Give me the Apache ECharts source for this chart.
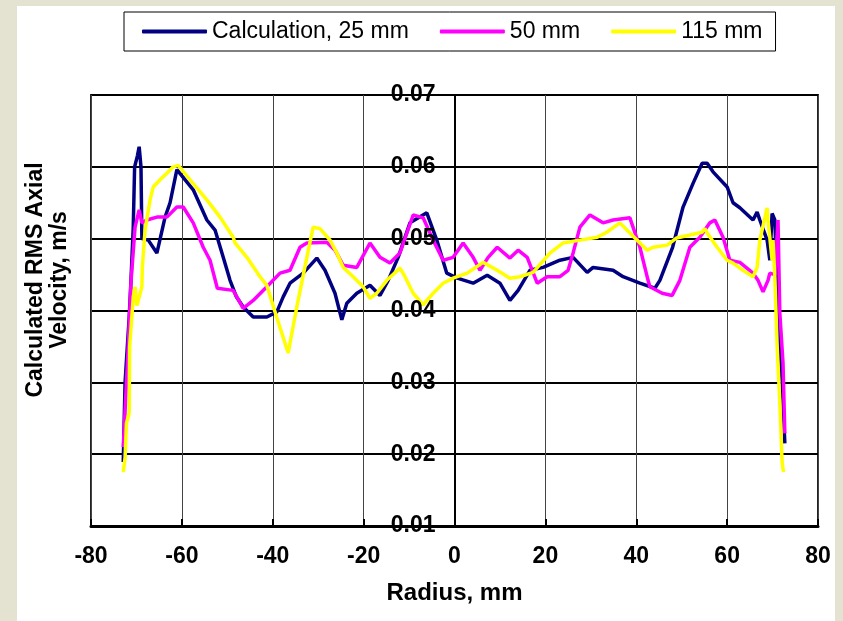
<!DOCTYPE html>
<html>
<head>
<meta charset="utf-8">
<script src="https://cdn.jsdelivr.net/npm/echarts@6/dist/echarts.min.js"></script>
<style>
html,body{margin:0;padding:0;background:#e4e2d0;}
#chart{width:843px;height:621px;}
</style>
</head>
<body>
<div id="chart"></div>
<script>
const seriesNames = ['Calculation, 25 mm', '50 mm', '115 mm'];
const xTicks = [-80, -60, -40, -20, 0, 20, 40, 60, 80];
const yTicks = [0.01, 0.02, 0.03, 0.04, 0.05, 0.06, 0.07];

const calc25 = [[-72.9,0.0189],[-72.5,0.030],[-71.6,0.039],[-71.2,0.0442],[-70.7,0.0516],[-70.4,0.060],[-69.8,0.0615],[-69.4,0.0628],[-69.0,0.060],[-68.8,0.050],[-67.4,0.0498],[-65.5,0.048],[-63.7,0.053],[-62.6,0.055],[-61.1,0.0596],[-57.5,0.0568],[-54.5,0.0526],[-52.7,0.0512],[-50.9,0.0474],[-49.4,0.0442],[-48.0,0.0419],[-46.5,0.0405],[-44.3,0.0391],[-41.3,0.0391],[-39.1,0.0398],[-37.7,0.0419],[-36.2,0.0438],[-33.3,0.0452],[-30.3,0.0473],[-28.5,0.0456],[-26.3,0.0424],[-24.8,0.0387],[-23.7,0.041],[-21.5,0.0424],[-18.6,0.0435],[-16.4,0.0421],[-14.6,0.0442],[-12.4,0.0474],[-9.8,0.0522],[-6.1,0.0536],[-3.9,0.0498],[-1.7,0.0452],[0.6,0.0445],[4.1,0.0438],[7.2,0.0449],[10.0,0.0438],[12.2,0.0414],[14.0,0.0428],[16.6,0.0456],[19.5,0.046],[23.2,0.047],[26.1,0.0474],[29.2,0.0453],[30.5,0.046],[34.9,0.0456],[37.1,0.0447],[40.8,0.0438],[44.1,0.0431],[45.2,0.0442],[48.0,0.0488],[50.3,0.0544],[52.5,0.0577],[54.5,0.0605],[55.6,0.0605],[56.9,0.0593],[60.0,0.0572],[61.3,0.055],[62.8,0.0543],[65.7,0.0526],[66.6,0.0537],[67.2,0.0526],[68.8,0.0498],[69.4,0.047],[69.9,0.0535],[70.5,0.0526],[71.2,0.040],[72.1,0.030],[72.7,0.0215]];

const mm50 = [[-72.9,0.021],[-71.8,0.035],[-71.2,0.044],[-70.3,0.0516],[-69.4,0.054],[-68.8,0.0522],[-67.7,0.0526],[-65.5,0.053],[-63.3,0.053],[-61.1,0.0544],[-59.7,0.0544],[-57.5,0.0522],[-55.3,0.0488],[-53.8,0.047],[-52.2,0.0431],[-48.7,0.0428],[-46.5,0.0403],[-44.3,0.0414],[-41.3,0.0433],[-38.4,0.0452],[-36.2,0.0456],[-34.0,0.0488],[-32.5,0.0494],[-28.1,0.0495],[-26.3,0.0484],[-24.5,0.0463],[-21.5,0.046],[-18.6,0.0494],[-16.4,0.0474],[-14.2,0.0466],[-12.0,0.048],[-9.1,0.0533],[-6.9,0.0529],[-4.7,0.0498],[-2.5,0.047],[-0.3,0.0474],[1.9,0.0494],[4.1,0.0474],[5.6,0.0456],[7.4,0.0474],[9.4,0.0488],[12.2,0.0473],[14.0,0.0484],[16.0,0.0474],[18.2,0.0438],[20.4,0.0447],[23.2,0.0447],[25.0,0.0456],[26.1,0.048],[27.6,0.0516],[29.8,0.0533],[32.7,0.0522],[34.9,0.0526],[38.6,0.0529],[40.8,0.0488],[42.6,0.0442],[43.0,0.0433],[45.7,0.0424],[47.9,0.0421],[49.6,0.0442],[51.8,0.0488],[54.0,0.0502],[56.2,0.0522],[57.3,0.0526],[59.1,0.0502],[60.6,0.047],[62.8,0.0467],[65.7,0.0452],[66.8,0.0442],[67.9,0.0426],[69.0,0.0442],[69.4,0.0452],[70.5,0.045],[71.2,0.0526],[71.6,0.0396],[72.3,0.0327],[72.7,0.0229]];

const mm115 = [[-72.9,0.0175],[-72.5,0.0195],[-72.2,0.0243],[-71.6,0.0257],[-71.5,0.0349],[-70.7,0.0419],[-70.3,0.0433],[-69.9,0.0407],[-68.8,0.0433],[-68.7,0.046],[-68.1,0.0512],[-67.0,0.0554],[-66.3,0.0572],[-64.8,0.0582],[-63.3,0.0591],[-61.9,0.060],[-60.8,0.0602],[-58.2,0.0582],[-54.5,0.0554],[-51.6,0.053],[-48.7,0.0502],[-48.3,0.0494],[-45.7,0.0474],[-42.8,0.0447],[-41.3,0.0435],[-39.1,0.039],[-36.6,0.0341],[-34.7,0.0405],[-32.5,0.0474],[-31.1,0.0516],[-29.6,0.0514],[-27.4,0.0498],[-25.9,0.048],[-24.5,0.046],[-22.3,0.0447],[-20.1,0.0433],[-18.6,0.0417],[-17.1,0.0424],[-14.9,0.0442],[-12.0,0.0459],[-10.9,0.0447],[-9.1,0.0424],[-6.9,0.0408],[-4.7,0.0424],[-2.5,0.0438],[-0.3,0.0445],[2.8,0.0452],[6.3,0.0467],[9.4,0.0456],[12.2,0.0445],[14.4,0.0447],[17.3,0.0453],[21.0,0.048],[23.9,0.0494],[27.6,0.0498],[31.4,0.0502],[33.5,0.0509],[36.4,0.0522],[38.6,0.0508],[42.4,0.0484],[43.7,0.0488],[46.8,0.0491],[48.9,0.0501],[51.8,0.0505],[54.5,0.0509],[55.1,0.0514],[55.6,0.0508],[57.8,0.0488],[60.0,0.047],[61.3,0.0466],[63.5,0.0456],[65.7,0.0447],[66.6,0.046],[67.2,0.0498],[68.8,0.0543],[69.0,0.0526],[69.9,0.047],[70.1,0.0498],[70.5,0.0447],[71.0,0.0352],[71.6,0.0271],[72.1,0.0189],[72.4,0.0175]];

const FONT = '"Liberation Sans", Arial, sans-serif';
const chart = echarts.init(document.getElementById('chart'), null, {renderer: 'canvas'});

const GRID_LEFT = 91, GRID_RIGHT = 25;
const plotWidth = 843 - GRID_LEFT - GRID_RIGHT;
// y axis sits on x = 0 (middle of the -80..80 range)
const yAxisOffset = -plotWidth * (0 - xTicks[0]) / (xTicks[xTicks.length - 1] - xTicks[0]);

function lineSeries(name, data, color) {
  return {
    name: name, type: 'line', data: data, showSymbol: false, symbol: 'none',
    smooth: false, lineStyle: {color: color, width: 3.5}, itemStyle: {color: color},
    emphasis: {disabled: true}, z: 3
  };
}

const yLabelStyle = {fontFamily: FONT, fontSize: 23, fontWeight: 'bold', color: '#000', margin: 19,
  formatter: function (v) { return v.toFixed(2); }};

chart.setOption({
  backgroundColor: '#e4e2d0',
  animation: false,
  graphic: [
    {type: 'rect', shape: {x: 17, y: 6, width: 818, height: 615}, style: {fill: '#ffffff'}, z: -100, silent: true},
    {type: 'text', x: 48, y: 280, rotation: Math.PI / 2, z: 10,
      style: {text: 'Calculated RMS Axial\nVelocity, m/s', font: 'bold 23px ' + FONT, align: 'center', verticalAlign: 'middle', lineHeight: 24, fill: '#000'}}
  ],
  legend: {
    data: seriesNames.map(function (n) { return {name: n, icon: 'roundRect'}; }),
    left: 124, top: 12, orient: 'horizontal',
    padding: [8, 13, 8, 18], itemGap: 31, itemWidth: 65, itemHeight: 4,
    backgroundColor: '#fff', borderColor: '#000', borderWidth: 1, borderRadius: 0,
    textStyle: {fontFamily: FONT, fontSize: 23, color: '#000'},
    selectedMode: false
  },
  grid: {left: GRID_LEFT, right: GRID_RIGHT, top: 95, bottom: 95, show: true, borderColor: '#222', borderWidth: 2, backgroundColor: '#fff', containLabel: false},
  xAxis: {
    type: 'value', min: xTicks[0], max: xTicks[xTicks.length - 1], interval: 20,
    name: 'Radius, mm', nameLocation: 'middle', nameGap: 55,
    nameTextStyle: {fontFamily: FONT, fontSize: 24, fontWeight: 'bold', color: '#000'},
    axisLine: {onZero: false, lineStyle: {color: '#000', width: 3}},
    axisTick: {show: true, inside: true, length: 7, lineStyle: {color: '#000', width: 2}},
    axisLabel: {fontFamily: FONT, fontSize: 23, fontWeight: 'bold', color: '#000', margin: 19},
    splitLine: {show: true, lineStyle: {color: '#444', width: 1}}
  },
  yAxis: [{
    type: 'value', min: yTicks[0], max: yTicks[yTicks.length - 1], interval: 0.01,
    position: 'left', offset: yAxisOffset,
    axisLine: {show: true, onZero: false, lineStyle: {color: '#000', width: 2}},
    axisTick: {show: false},
    axisLabel: {show: false},
    splitLine: {show: true, lineStyle: {color: '#000', width: 2}}
  }, {
    type: 'value', min: yTicks[0], max: yTicks[yTicks.length - 1], interval: 0.01,
    position: 'left', offset: yAxisOffset, z: 10,
    axisLine: {show: false}, axisTick: {show: false}, splitLine: {show: false},
    axisLabel: yLabelStyle
  }],
  series: [
    lineSeries(seriesNames[0], calc25, '#000080'),
    lineSeries(seriesNames[1], mm50, '#ff00ff'),
    lineSeries(seriesNames[2], mm115, '#ffff00')
  ]
});
</script>
</body>
</html>
